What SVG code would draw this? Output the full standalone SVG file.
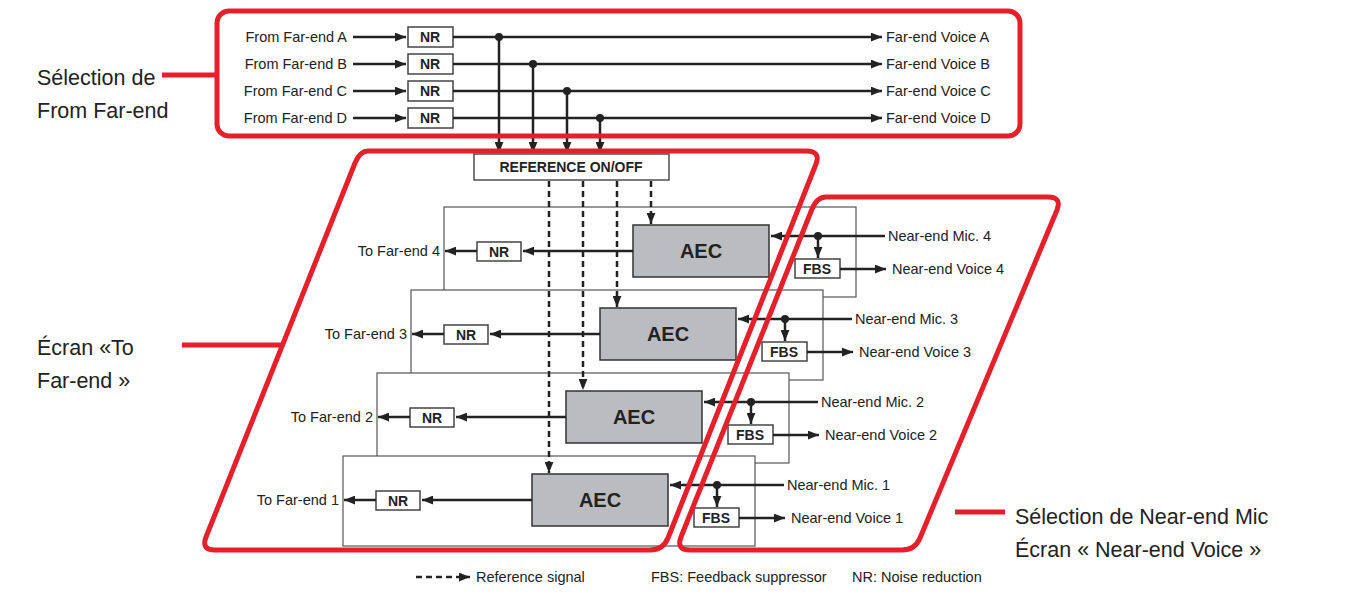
<svg xmlns="http://www.w3.org/2000/svg" width="1348" height="593" viewBox="0 0 1348 593">
<style>
.t{font-family:"Liberation Sans",Arial,sans-serif;font-size:14.5px;fill:#222}
.b{font-family:"Liberation Sans",Arial,sans-serif;font-weight:bold;fill:#222;text-anchor:middle}
.big{font-family:"Liberation Sans",Arial,sans-serif;font-size:21.5px;fill:#222}
.ln{stroke:#222;stroke-width:2.5;fill:none}
.dl{stroke:#222;stroke-width:2.5;fill:none;stroke-dasharray:6,4}
.bx{fill:#fff;stroke:#444;stroke-width:1.5}
.panel{fill:#fff;stroke:#555;stroke-width:1.2}
.aec{fill:#bbbcbf;stroke:#333;stroke-width:1.5}
.red{fill:none;stroke:#e5202a;stroke-width:5;stroke-linejoin:round}
</style>
<defs>
<marker id="a" viewBox="0 0 10 8" refX="10" refY="4" markerWidth="11" markerHeight="9" markerUnits="userSpaceOnUse" orient="auto"><path d="M0,0L10,4L0,8z" fill="#222"/></marker>
<g id="pc">
<path class="ln" marker-end="url(#a)" d="M633,251H523"/>
<path class="ln" marker-end="url(#a)" d="M477,251H445"/>
<path class="ln" marker-end="url(#a)" d="M885,236H771"/>
<path class="ln" marker-end="url(#a)" d="M818,236V258"/>
<path class="ln" marker-end="url(#a)" d="M840,269H886"/>
<circle cx="818" cy="236" r="4" fill="#222"/>
</g>
</defs>
<g id="panel4" transform="translate(0,0)">
<rect class="panel" x="444" y="207" width="412" height="90"/>
<rect class="aec" x="633" y="225" width="136" height="52"/>
<text class="b" x="701" y="258" font-size="20">AEC</text>
<rect class="bx" x="477" y="242" width="44" height="19"/><text class="b" x="499" y="257" font-size="14">NR</text>
<rect class="bx" x="795" y="259" width="45" height="19"/><text class="b" x="817" y="274" font-size="14">FBS</text>
<text class="t" x="440" y="256" text-anchor="end">To Far-end 4</text>
<text class="t" x="888" y="241">Near-end Mic. 4</text>
<text class="t" x="892" y="274">Near-end Voice 4</text>
</g>
<g id="panel3" transform="translate(-33,83)">
<rect class="panel" x="444" y="207" width="412" height="90"/>
<rect class="aec" x="633" y="225" width="136" height="52"/>
<text class="b" x="701" y="258" font-size="20">AEC</text>
<rect class="bx" x="477" y="242" width="44" height="19"/><text class="b" x="499" y="257" font-size="14">NR</text>
<rect class="bx" x="795" y="259" width="45" height="19"/><text class="b" x="817" y="274" font-size="14">FBS</text>
<text class="t" x="440" y="256" text-anchor="end">To Far-end 3</text>
<text class="t" x="888" y="241">Near-end Mic. 3</text>
<text class="t" x="892" y="274">Near-end Voice 3</text>
</g>
<g id="panel2" transform="translate(-67,166)">
<rect class="panel" x="444" y="207" width="412" height="90"/>
<rect class="aec" x="633" y="225" width="136" height="52"/>
<text class="b" x="701" y="258" font-size="20">AEC</text>
<rect class="bx" x="477" y="242" width="44" height="19"/><text class="b" x="499" y="257" font-size="14">NR</text>
<rect class="bx" x="795" y="259" width="45" height="19"/><text class="b" x="817" y="274" font-size="14">FBS</text>
<text class="t" x="440" y="256" text-anchor="end">To Far-end 2</text>
<text class="t" x="888" y="241">Near-end Mic. 2</text>
<text class="t" x="892" y="274">Near-end Voice 2</text>
</g>
<g id="panel1" transform="translate(-101,249)">
<rect class="panel" x="444" y="207" width="412" height="90"/>
<rect class="aec" x="633" y="225" width="136" height="52"/>
<text class="b" x="701" y="258" font-size="20">AEC</text>
<rect class="bx" x="477" y="242" width="44" height="19"/><text class="b" x="499" y="257" font-size="14">NR</text>
<rect class="bx" x="795" y="259" width="45" height="19"/><text class="b" x="817" y="274" font-size="14">FBS</text>
<text class="t" x="440" y="256" text-anchor="end">To Far-end 1</text>
<text class="t" x="888" y="241">Near-end Mic. 1</text>
<text class="t" x="892" y="274">Near-end Voice 1</text>
</g>
<g id="top">
<text class="t" x="347" y="42" text-anchor="end">From Far-end A</text>
<text class="t" x="347" y="69" text-anchor="end">From Far-end B</text>
<text class="t" x="347" y="96" text-anchor="end">From Far-end C</text>
<text class="t" x="347" y="123" text-anchor="end">From Far-end D</text>
<rect class="bx" x="408" y="27" width="45" height="20"/><text class="b" x="430" y="42" font-size="14">NR</text>
<rect class="bx" x="408" y="54" width="45" height="20"/><text class="b" x="430" y="69" font-size="14">NR</text>
<rect class="bx" x="408" y="81" width="45" height="20"/><text class="b" x="430" y="96" font-size="14">NR</text>
<rect class="bx" x="408" y="108" width="45" height="20"/><text class="b" x="430" y="123" font-size="14">NR</text>
<text class="t" x="886" y="42">Far-end Voice A</text>
<text class="t" x="886" y="69">Far-end Voice B</text>
<text class="t" x="886" y="96">Far-end Voice C</text>
<text class="t" x="886" y="123">Far-end Voice D</text>
</g>
<g id="refbox">
<rect x="474" y="154" width="195" height="26" fill="#fff" stroke="#333" stroke-width="1.3"/>
<text class="b" x="571" y="172" font-size="14">REFERENCE ON/OFF</text>
</g>
<g id="connectors">
<path class="ln" marker-end="url(#a)" d="M353,37H406"/>
<path class="ln" marker-end="url(#a)" d="M353,64H406"/>
<path class="ln" marker-end="url(#a)" d="M353,91H406"/>
<path class="ln" marker-end="url(#a)" d="M353,118H406"/>
<path class="ln" marker-end="url(#a)" d="M453,37H882"/>
<path class="ln" marker-end="url(#a)" d="M453,64H882"/>
<path class="ln" marker-end="url(#a)" d="M453,91H882"/>
<path class="ln" marker-end="url(#a)" d="M453,118H882"/>
<path class="ln" marker-end="url(#a)" d="M499,37V153"/>
<path class="ln" marker-end="url(#a)" d="M533,64V153"/>
<path class="ln" marker-end="url(#a)" d="M567,91V153"/>
<path class="ln" marker-end="url(#a)" d="M600,118V153"/>
<g fill="#222"><circle cx="499" cy="37" r="4"/><circle cx="533" cy="64" r="4"/><circle cx="567" cy="91" r="4"/><circle cx="600" cy="118" r="4"/></g>
<path class="dl" marker-end="url(#a)" d="M651,181V224"/>
<path class="dl" marker-end="url(#a)" d="M617,181V307"/>
<path class="dl" marker-end="url(#a)" d="M583,181V390"/>
<path class="dl" marker-end="url(#a)" d="M549,181V473"/>
<use href="#pc"/>
<use href="#pc" transform="translate(-33,83)"/>
<use href="#pc" transform="translate(-67,166)"/>
<use href="#pc" transform="translate(-101,249)"/>
</g>
<g id="regions">
<rect class="red" x="217" y="11" width="803" height="125" rx="12"/>
<path class="red" d="M368,151H806Q821,151 816,164L668,538Q663,550 650,550H215Q201,550 206,537L355,163Q360,151 368,151Z"/>
<path class="red" d="M826,197H1048Q1062,197 1057,210L920,538Q915,550 902,550H690Q676,550 681,537L812,209Q817,197 826,197Z"/>
<path class="red" d="M162,75H217M182,345H282M1005,512H955"/>
</g>
<g id="labels">
<text class="big" x="37" y="85">Sélection de</text>
<text class="big" x="37" y="118">From Far-end</text>
<text class="big" x="37" y="355">Écran «To</text>
<text class="big" x="37" y="388">Far-end »</text>
<text class="big" x="1015" y="524">Sélection de Near-end Mic</text>
<text class="big" x="1015" y="557">Écran « Near-end Voice »</text>
</g>
<g id="legend">
<path class="dl" marker-end="url(#a)" d="M416,577H470" stroke-dasharray="5,3"/>
<text class="t" x="476" y="582" font-size="13">Reference signal</text>
<text class="t" x="651" y="582" font-size="13">FBS: Feedback suppressor</text>
<text class="t" x="852" y="582" font-size="13">NR: Noise reduction</text>
</g>
</svg>
